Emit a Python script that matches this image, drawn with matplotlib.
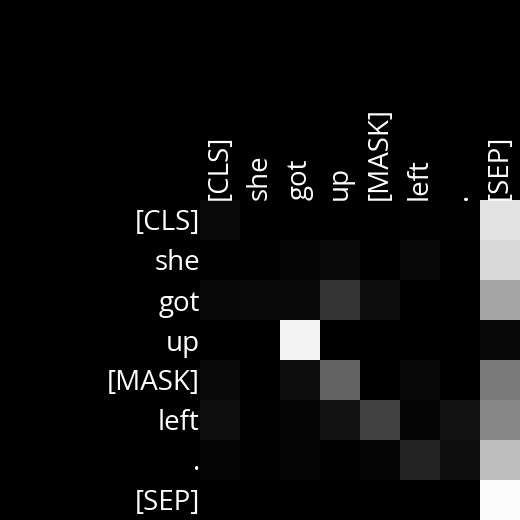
import numpy as np
import matplotlib.pyplot as plt

tokens = ["[CLS]", "she", "got", "up", "[MASK]", "left", ".", "[SEP]"]

# attention weights, one row per query token
row_cls = [0.04, 0.00, 0.00, 0.00, 0.00, 0.01, 0.01, 0.89]
row_she = [0.01, 0.01, 0.02, 0.04, 0.00, 0.03, 0.00, 0.85]
row_got = [0.03, 0.04, 0.04, 0.21, 0.05, 0.00, 0.00, 0.65]
row_up = [0.00, 0.00, 0.95, 0.00, 0.00, 0.00, 0.00, 0.035]
row_mask = [0.04, 0.00, 0.05, 0.39, 0.00, 0.03, 0.00, 0.48]
row_left = [0.06, 0.01, 0.02, 0.07, 0.26, 0.02, 0.07, 0.53]
row_dot = [0.02, 0.01, 0.02, 0.01, 0.02, 0.14, 0.06, 0.745]
row_sep = [0.00, 0.00, 0.00, 0.00, 0.00, 0.00, 0.00, 0.985]

attention = np.array([row_cls, row_she, row_got, row_up,
                      row_mask, row_left, row_dot, row_sep])

plt.rcParams['font.family'] = ['Open Sans', 'DejaVu Sans']

fig = plt.figure(figsize=(5.2, 5.2), dpi=100, facecolor='black')
ax = fig.add_axes([200 / 520, 0, 320 / 520, 320 / 520])
ax.imshow(attention, cmap='gray', vmin=0, vmax=1, aspect='auto')

ax.set_xticks(range(len(tokens)))
ax.set_yticks(range(len(tokens)))
ax.set_xticklabels(tokens, rotation=90, fontsize=20, color='white')
ax.set_yticklabels(tokens, fontsize=20, color='white')
ax.xaxis.tick_top()
ax.tick_params(length=0, pad=0)
for s in ax.spines.values():
    s.set_visible(False)

fig.savefig('out.png', facecolor='black')
